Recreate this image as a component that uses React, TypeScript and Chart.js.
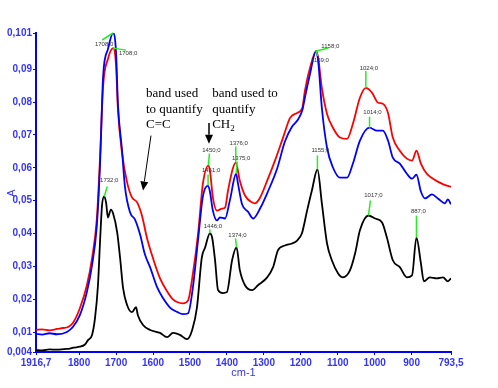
import React, { useEffect, useRef } from "react";
import { Chart, registerables } from "chart.js";

Chart.register(...registerables);

// ---- Axis ticks ----
const xTickValues = [1916.7, 1800, 1700, 1600, 1500, 1400, 1300, 1200, 1100, 1000, 900, 793.5];
const xTickLabels = ["1916,7", "1800", "1700", "1600", "1500", "1400", "1300", "1200", "1100", "1000", "900", "793,5"];
const yTickValues = [0.004, 0.01, 0.02, 0.03, 0.04, 0.05, 0.06, 0.07, 0.08, 0.09, 0.101];
const yTickLabels = ["0,004", "0,01", "0,02", "0,03", "0,04", "0,05", "0,06", "0,07", "0,08", "0,09", "0,101"];

// ---- Spectra: [wavenumber cm-1, absorbance] ----
const redSpectrum: [number, number][] = [
  [1916.7, 0.0107], [1900, 0.0109], [1880, 0.0106], [1860, 0.011], [1844, 0.0113], [1830, 0.0116],
  [1817, 0.0128], [1798, 0.0173], [1779, 0.0243], [1765, 0.0325], [1752, 0.0446], [1743.5, 0.0628],
  [1735, 0.0849], [1722, 0.0931], [1708, 0.0964], [1700, 0.091], [1695, 0.0779], [1684, 0.0646],
  [1670, 0.0555], [1657, 0.051], [1643, 0.0495], [1630, 0.0455], [1616, 0.0385], [1600, 0.0325],
  [1581, 0.0264], [1562, 0.0225], [1546, 0.02], [1535, 0.0192], [1519, 0.0188], [1505, 0.0197],
  [1492, 0.0279], [1478, 0.04], [1465, 0.0552], [1450, 0.0607], [1446, 0.0592], [1438, 0.051],
  [1427, 0.047], [1413, 0.0476], [1405, 0.0479], [1397, 0.0531], [1384, 0.0598], [1376, 0.0616],
  [1365, 0.0561], [1351, 0.0516], [1332, 0.0495], [1324, 0.0492], [1310, 0.051], [1291, 0.0561],
  [1270, 0.0622], [1248, 0.0692], [1229, 0.0752], [1210, 0.0767], [1196, 0.0782], [1189, 0.0834],
  [1175, 0.0904], [1158, 0.0955], [1153, 0.0934], [1143, 0.0843], [1129, 0.0764], [1113, 0.0722],
  [1094, 0.0692], [1075, 0.0688], [1059, 0.0734], [1040, 0.0813], [1024, 0.0843], [1007, 0.0828],
  [991, 0.0798], [978, 0.0795], [964, 0.0767], [951, 0.0692], [932, 0.0652], [913, 0.0628],
  [899, 0.0622], [887, 0.0652], [875, 0.0613], [859, 0.0582], [842, 0.0567], [824, 0.0555],
  [805, 0.0546], [793.5, 0.0543],
];

const blueSpectrum: [number, number][] = [
  [1916.7, 0.0095], [1900, 0.0093], [1880, 0.0097], [1860, 0.0094], [1833, 0.0101], [1817, 0.0116],
  [1798, 0.0152], [1779, 0.0222], [1765, 0.0304], [1752, 0.0425], [1743.5, 0.0607], [1735, 0.0879],
  [1722, 0.0961], [1708, 0.101], [1700, 0.095], [1695, 0.0794], [1684, 0.0655], [1676, 0.0543],
  [1662, 0.0464], [1649, 0.0443], [1635, 0.0397], [1622, 0.0337], [1608, 0.0298], [1589, 0.0237],
  [1573, 0.0204], [1554, 0.0175], [1535, 0.0162], [1519, 0.0155], [1505, 0.0158], [1492, 0.0237],
  [1478, 0.0382], [1465, 0.0513], [1451, 0.0546], [1446, 0.0528], [1438, 0.047], [1427, 0.044],
  [1419, 0.0449], [1405, 0.0446], [1392, 0.0501], [1375, 0.0582], [1370, 0.0552], [1359, 0.0489],
  [1343, 0.0467], [1329, 0.0446], [1310, 0.0477], [1289, 0.0528], [1264, 0.0598], [1243, 0.068],
  [1224, 0.0725], [1208, 0.0746], [1196, 0.0775], [1189, 0.0813], [1175, 0.0886], [1159, 0.0955],
  [1153, 0.0925], [1143, 0.0782], [1129, 0.0661], [1113, 0.0601], [1094, 0.057], [1075, 0.057],
  [1059, 0.0613], [1040, 0.0683], [1014, 0.0722], [994, 0.0713], [978, 0.0713], [964, 0.0683],
  [951, 0.0631], [932, 0.0613], [913, 0.0582], [899, 0.0567], [887, 0.0579], [875, 0.0528],
  [864, 0.0507], [845, 0.0519], [829, 0.0507], [810, 0.0492], [802, 0.0504], [793.5, 0.0489],
];

const blackSpectrum: [number, number][] = [
  [1916.7, 0.0046], [1900, 0.0045], [1880, 0.0048], [1860, 0.0047], [1840, 0.0049], [1825, 0.005],
  [1816, 0.0053], [1798, 0.0056], [1785, 0.0062], [1776, 0.0076], [1765, 0.0092], [1757, 0.0143],
  [1749, 0.0243], [1743.5, 0.0373], [1738, 0.0486], [1732, 0.0513], [1727, 0.0494], [1722, 0.0449],
  [1714, 0.0473], [1708, 0.0461], [1697, 0.0404], [1689, 0.0325], [1681, 0.0234], [1670, 0.0182],
  [1657, 0.0161], [1646, 0.0176], [1641, 0.0152], [1627, 0.0122], [1608, 0.0107], [1581, 0.0098],
  [1562, 0.0085], [1546, 0.0098], [1527, 0.0092], [1508, 0.0079], [1494, 0.0107], [1481, 0.0176],
  [1468, 0.0327], [1459, 0.0358], [1446, 0.0401], [1440, 0.0388], [1432, 0.0318], [1424, 0.0228],
  [1411, 0.0219], [1400, 0.0222], [1386, 0.0319], [1374, 0.0358], [1365, 0.0289], [1351, 0.0243],
  [1332, 0.0228], [1316, 0.0243], [1291, 0.0267], [1275, 0.0298], [1262, 0.0349], [1243, 0.0364],
  [1224, 0.037], [1210, 0.0379], [1197, 0.0401], [1183, 0.047], [1170, 0.0531], [1155, 0.0595],
  [1143, 0.0492], [1129, 0.037], [1116, 0.0319], [1099, 0.0279], [1086, 0.0267], [1067, 0.0288],
  [1053, 0.034], [1040, 0.041], [1017, 0.0455], [999, 0.0446], [980, 0.0434], [967, 0.0388],
  [951, 0.0319], [932, 0.0298], [913, 0.0267], [899, 0.0273], [887, 0.0388], [875, 0.031],
  [867, 0.0255], [851, 0.0267], [832, 0.0264], [815, 0.0267], [802, 0.0255], [793.5, 0.0264],
];

// ---- Peak markers (series, peak wavenumber, label) ----
const peakSeries = ["blue", "red", "black", "red", "blue", "black", "red", "blue", "black", "red", "blue", "black", "red", "blue", "black", "black"];
const peakWavenumbers = [1708, 1708, 1732, 1450, 1451, 1446, 1376, 1375, 1374, 1158, 1159, 1155, 1024, 1014, 1017, 887];
const peakTexts = ["1708;0", "1708;0", "1732;0", "1450;0", "1451;0", "1446;0", "1376;0", "1375;0", "1374;0", "1158;0", "1159;0", "1155;0", "1024;0", "1014;0", "1017;0", "887;0"];
// styling offsets (px): leader end and label centre relative to peak point
const peakLeader = [[-11, 7], [13, 2], [3, -10], [1, -12], [0, -11], [0, -4], [0, -16], [1, -12], [-1, -9], [12, -3], [2, 5], [0, -14], [0, -17], [0, -11], [2, -15], [0, -22]];
const peakLabelPos = [[-9, 11], [15, 5], [5, -16], [3, -15], [3, -15], [3, -7], [3, -19], [5, -15], [1, -12], [14, -5], [4, 9], [3, -19], [3, -20], [3, -15], [5, -20], [2, -26]];

const spectra: Record<string, [number, number][]> = { red: redSpectrum, blue: blueSpectrum, black: blackSpectrum };

const AXIS_BLUE = "#0000ff";
const LABEL_BLUE = "#3333ff";

function drawArrow(ctx: CanvasRenderingContext2D, x1: number, y1: number, x2: number, y2: number) {
  const ang = Math.atan2(y2 - y1, x2 - x1);
  const hl = 9, hw = 4;
  const bx = x2 - hl * Math.cos(ang), by = y2 - hl * Math.sin(ang);
  ctx.beginPath();
  ctx.moveTo(x1, y1);
  ctx.lineTo(bx, by);
  ctx.stroke();
  ctx.beginPath();
  ctx.moveTo(x2, y2);
  ctx.lineTo(bx + hw * Math.sin(ang), by - hw * Math.cos(ang));
  ctx.lineTo(bx - hw * Math.sin(ang), by + hw * Math.cos(ang));
  ctx.closePath();
  ctx.fill();
}

const overlayPlugin = {
  id: "overlay",
  afterDatasetsDraw(chart: any) {
    const ctx: CanvasRenderingContext2D = chart.ctx;
    const xs = chart.scales.x;
    const ys = chart.scales.y;
    const ca = chart.chartArea;
    ctx.save();
    // peak markers
    peakWavenumbers.forEach((wn, i) => {
      const s = spectra[peakSeries[i]];
      const pt = s.find((p) => p[0] === wn);
      if (!pt) return;
      const px = xs.getPixelForValue(pt[0]);
      const py = ys.getPixelForValue(pt[1]);
      ctx.strokeStyle = "#22ee22";
      ctx.lineWidth = 1.5;
      ctx.beginPath();
      ctx.moveTo(px, py);
      ctx.lineTo(px + peakLeader[i][0], py + peakLeader[i][1]);
      ctx.stroke();
      ctx.fillStyle = "#333333";
      ctx.font = "6px Arial, 'Liberation Sans', sans-serif";
      ctx.textAlign = "center";
      ctx.textBaseline = "middle";
      ctx.fillText(peakTexts[i], px + peakLabelPos[i][0], py + peakLabelPos[i][1]);
    });

    // annotations
    ctx.fillStyle = "#000";
    ctx.strokeStyle = "#000";
    ctx.font = "13px 'Times New Roman', 'Liberation Serif', serif";
    ctx.textAlign = "left";
    ctx.textBaseline = "middle";
    const ccX = xs.getPixelForValue(1619);
    const ccY = ys.getPixelForValue(0.0825);
    ["band used", "to quantify", "C=C"].forEach((t, k) => ctx.fillText(t, ccX, ccY + k * 15.5));
    const chX = xs.getPixelForValue(1440);
    ["band used to", "quantify"].forEach((t, k) => ctx.fillText(t, chX, ccY + k * 15.5));
    ctx.fillText("CH", chX, ccY + 31);
    const chW = ctx.measureText("CH").width;
    ctx.font = "9px 'Times New Roman', 'Liberation Serif', serif";
    ctx.fillText("2", chX + chW, ccY + 35);

    ctx.lineWidth = 1;
    drawArrow(ctx, xs.getPixelForValue(1605.5), ys.getPixelForValue(0.0698), xs.getPixelForValue(1627), ys.getPixelForValue(0.0531));
    ctx.lineWidth = 1.5;
    drawArrow(ctx, xs.getPixelForValue(1448.5), ys.getPixelForValue(0.0736), xs.getPixelForValue(1448.5), ys.getPixelForValue(0.0673));

    // axis titles
    ctx.fillStyle = LABEL_BLUE;
    ctx.font = "11px Arial, 'Liberation Sans', sans-serif";
    ctx.textAlign = "center";
    ctx.textBaseline = "middle";
    ctx.fillText("cm-1", (ca.left + ca.right) / 2, ca.bottom + 21);
    ctx.save();
    ctx.translate(ca.left - 24, ca.top + 160);
    ctx.rotate(-Math.PI / 2);
    ctx.fillText("A", 0, 0);
    ctx.restore();
    ctx.restore();
  },
};

const findLabel = (values: number[], labels: string[], v: number) => {
  const i = values.findIndex((t) => Math.abs(t - v) < 1e-9);
  return i >= 0 ? labels[i] : "";
};

export default function App() {
  const ref = useRef<HTMLCanvasElement>(null);
  useEffect(() => {
    const toPts = (s: [number, number][]) => s.map(([x, y]) => ({ x, y }));
    const ds = (s: [number, number][], color: string) => ({
      data: toPts(s),
      borderColor: color,
      backgroundColor: color,
      borderWidth: 1.8,
      pointRadius: 0,
      fill: false,
      cubicInterpolationMode: "monotone" as const,
    });
    const tickFont = { family: "Arial, 'Liberation Sans', sans-serif", size: 10, weight: "bold" as const };
    const chart = new Chart(ref.current!, {
      type: "line",
      data: {
        datasets: [ds(blueSpectrum, "#0000ff"), ds(redSpectrum, "#ff0000"), ds(blackSpectrum, "#000000")],
      },
      options: {
        animation: false,
        responsive: false,
        devicePixelRatio: 1,
        layout: { padding: { top: 33, right: 47, left: 0, bottom: 0 } },
        plugins: { legend: { display: false }, tooltip: { enabled: false } },
        scales: {
          x: {
            type: "linear",
            reverse: true,
            min: 793.5,
            max: 1916.7,
            afterBuildTicks: (s: any) => {
              s.ticks = xTickValues.map((v) => ({ value: v }));
            },
            afterFit: (s: any) => {
              s.height = 36;
            },
            ticks: {
              autoSkip: false,
              maxRotation: 0,
              padding: 2,
              color: LABEL_BLUE,
              font: tickFont,
              callback: (v: any) => findLabel(xTickValues, xTickLabels, Number(v)),
            },
            grid: { drawOnChartArea: false, drawTicks: true, tickLength: 3, color: AXIS_BLUE },
            border: { color: AXIS_BLUE, width: 2 },
          },
          y: {
            type: "linear",
            min: 0.004,
            max: 0.101,
            afterBuildTicks: (s: any) => {
              s.ticks = yTickValues.map((v) => ({ value: v }));
            },
            afterFit: (s: any) => {
              s.width = 36;
            },
            ticks: {
              autoSkip: false,
              padding: 1,
              color: LABEL_BLUE,
              font: tickFont,
              callback: (v: any) => findLabel(yTickValues, yTickLabels, Number(v)),
            },
            grid: { drawOnChartArea: false, drawTicks: true, tickLength: 3, color: AXIS_BLUE },
            border: { color: AXIS_BLUE, width: 2 },
          },
        },
      },
      plugins: [overlayPlugin],
    });
    return () => chart.destroy();
  }, []);
  return (
    <div style={{ position: "absolute", left: 0, top: 0, width: 498, height: 388, background: "#fff" }}>
      <canvas ref={ref} width={498} height={388} style={{ display: "block" }} />
    </div>
  );
}
